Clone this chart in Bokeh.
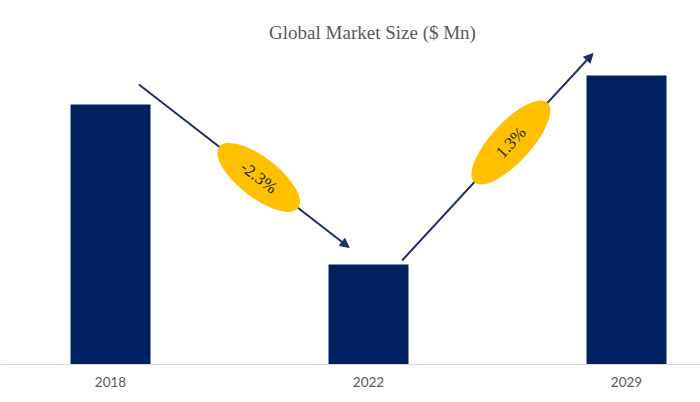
from bokeh.plotting import figure
from bokeh.models import Arrow, NormalHead, Label, FixedTicker, Range1d, ColumnDataSource
from bokeh.core.properties import value
from bokeh.embed import file_html
from bokeh.resources import INLINE
import math

# ---- data ----
years = ["2018", "2022", "2029"]
market_size = [260, 100, 289]
cagr_labels = ["-2.3%", "1.3%"]
title_text = "Global Market Size ($ Mn)"

BAR_COLOR = "#002060"
ARROW_COLOR = "#1F2F66"
OVAL_COLOR = "#FFC000"

xs = list(range(len(years)))

p = figure(width=700, height=402,
           x_range=Range1d(-0.4264, 2.2868), y_range=Range1d(0, 364),
           output_backend="svg", toolbar_location=None,
           y_axis_location=None, min_border=0, min_border_bottom=38)
p.grid.visible = False
p.outline_line_color = None
p.background_fill_color = "white"
p.border_fill_color = "white"

src = ColumnDataSource(dict(x=xs, top=market_size))
p.vbar(x="x", top="top", bottom=0, width=0.31, source=src,
       fill_color=BAR_COLOR, line_color=None)

ax = p.xaxis[0]
ax.ticker = FixedTicker(ticks=xs)
ax.major_label_overrides = {i: y for i, y in zip(xs, years)}
ax.axis_line_color = "#D9D9D9"
ax.axis_line_width = 1.2
ax.major_tick_line_color = None
ax.minor_tick_line_color = None
ax.major_tick_out = 0
ax.major_tick_in = 0
ax.major_label_standoff = 12
ax.major_label_text_font = "Lato"
ax.major_label_text_font_size = "13.5px"
ax.major_label_text_color = "#595959"

# ---- CAGR arrows with ovals ----
# arrow end points expressed relative to the bars
starts = [(xs[0] + 0.11, market_size[0] + 20), (xs[1] + 0.13, market_size[1] + 4)]
ends = [(xs[1] - 0.075, market_size[1] + 17), (xs[2] - 0.13, market_size[2] + 22)]
oval_len = [100, 108]
frac = 0.57

ox, oy, ang, ow, oh = [], [], [], [], []
for (x0, y0), (x1, y1), L in zip(starts, ends, oval_len):
    p.add_layout(Arrow(x_start=x0, y_start=y0, x_end=x1, y_end=y1,
                       line_color=ARROW_COLOR, line_width=2, level="underlay",
                       end=NormalHead(size=9, fill_color=ARROW_COLOR,
                                      line_color=ARROW_COLOR)))
    cx = x0 + frac * (x1 - x0)
    cy = y0 + frac * (y1 - y0)
    # screen-space angle (258 px per x unit, 1 px per y unit)
    a = math.atan2(y1 - y0, (x1 - x0) * 258)
    ox.append(cx); oy.append(cy); ang.append(a); ow.append(L); oh.append(40)

osrc = ColumnDataSource(dict(x=ox, y=oy, w=ow, h=oh, angle=ang, label=cagr_labels))
p.ellipse(x="x", y="y", width="w", height="h", angle="angle",
          width_units="screen", height_units="screen", source=osrc,
          fill_color=OVAL_COLOR, line_color=None)
p.text(x="x", y="y", text="label", angle="angle", source=osrc,
       text_align="center", text_baseline="middle",
       text_font=value("Liberation Serif"), text_font_size="17px",
       text_color="#262626")

p.add_layout(Label(x=1.0155, y=332, text=title_text, text_align="center",
                   text_baseline="middle", text_font="Liberation Serif",
                   text_font_size="19px", text_color="#595959"))

open("out.html", "w").write(file_html(p, INLINE))
